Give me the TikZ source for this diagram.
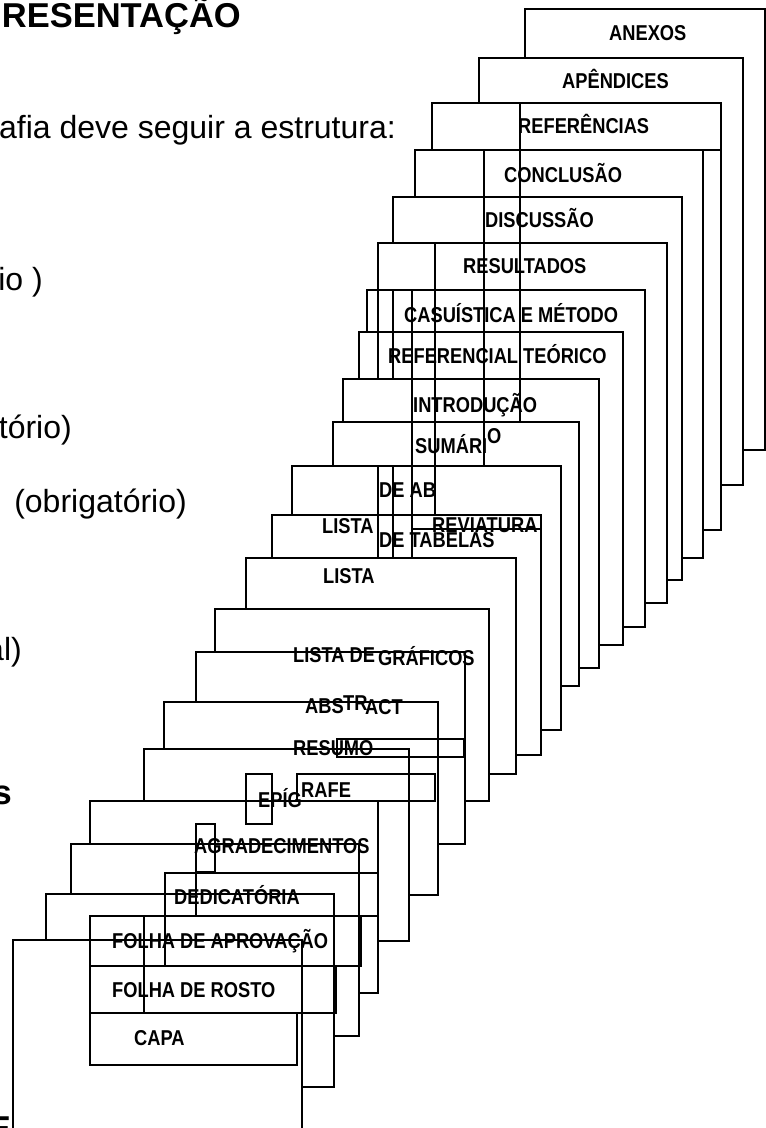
\documentclass[tikz,border=0pt]{standalone}
\usepackage{fontspec}
\setmainfont{Liberation Sans}
\newfontfamily\labfont[FakeStretch=0.85]{Liberation Sans}
\tikzset{
  page/.style={draw=black, fill=white, line width=1.7pt},
  ln/.style={draw=black, line width=1.7pt},
  lab/.style={inner sep=0pt, anchor=base west, font=\labfont\fontsize{21.5}{21.5}\selectfont\bfseries},
  body/.style={inner sep=0pt, font=\fontsize{32}{32}\selectfont},
  bodyb/.style={inner sep=0pt, font=\fontsize{34.5}{34.5}\selectfont\bfseries},
}
\begin{document}
\begin{tikzpicture}[x=1pt,y=-1pt]
\useasboundingbox (0,0) rectangle (766,1128);
% left text
\node[bodyb, anchor=base east] (title) at (241,27) {RESENTAÇÃO};
\node[body, anchor=base east] (t1) at (396,138) {afia deve seguir a estrutura:};
\node[body, anchor=base east] (t2) at (43,290) {io )};
\node[body, anchor=base east] (t3) at (72,438) {tório)};
\node[body, anchor=base east] (t4) at (187,512) {(obrigatório)};
\node[body, anchor=base east] (t5) at (22,660) {al)};
\node[bodyb, anchor=base east] (t6) at (12,804) {s};
\node[bodyb, anchor=base east] (t7) at (11,1140) {E};
% pages, back to front
\foreach \l/\t/\r/\b in {
  525/9/765/450, 479/58/743/485, 432/103/721/530, 415/150/703/558,
  393/197/682/580, 378/243/667/603, 367/290/645/627, 359/332/623/645,
  343/379/599/668, 333/422/579/686, 292/466/561/730, 272/515/541/755,
  246/558/516/774, 215/609/489/801, 196/652/465/844, 164/702/438/895,
  144/749/409/941, 90/801/378/993, 71/844/359/1036, 46/894/334/1087,
  13/940/302/1150}
  \draw[page] (\l,\t) rectangle (\r,\b);
% label box edges (upper stack)
\draw[ln] (520,103) -- (520,422);
\draw[ln] (520,150) -- (721,150);
\draw[ln] (484,150) -- (484,466);
\draw[ln] (435,243) -- (435,515);
\draw[ln] (412,290) -- (412,558);
\draw[ln] (393,290) -- (393,380) (393,466) -- (393,558);
\draw[ln] (378,290) -- (378,380) (378,466) -- (378,558);
\draw[ln] (412,529) -- (541,529);
% middle boxes
\draw[ln] (337,739) rectangle (464,757);
\draw[ln] (246,774) rectangle (272,824);
\draw[ln] (297,774) rectangle (435,801);
% lower boxes
\draw[ln] (196,824) rectangle (215,872);
\draw[ln] (196,872) -- (196,916);
\draw[ln] (165,873) rectangle (378,916);
\draw[ln] (165,916) -- (165,966);
\draw[ln] (90,916) rectangle (361,966);
\draw[ln] (90,966) rectangle (336,1013);
\draw[ln] (90,1013) rectangle (297,1065);
\draw[ln] (144,916) -- (144,1013);
% labels
\node[lab] (anexos) at (609,40) {ANEXOS};
\node[lab] (apend) at (562,88) {APÊNDICES};
\node[lab] (refer) at (518,133) {REFERÊNCIAS};
\node[lab] (concl) at (504,182) {CONCLUSÃO};
\node[lab] (discu) at (485,227) {DISCUSSÃO};
\node[lab] (resul) at (463,273) {RESULTADOS};
\node[lab] (casu) at (404,322) {CASUÍSTICA E MÉTODO};
\node[lab] (refte) at (388,363) {REFERENCIAL TEÓRICO};
\node[lab] (intro) at (413,412) {INTRODUÇÃO};
\node[lab] (suma) at (415,453) {SUMÁRI};
\node[lab] (sumo) at (487,443) {O};
\node[lab] (deab) at (379,497) {DE AB};
\node[lab] (lista1) at (322,533) {LISTA};
\node[lab] (revia) at (432,532) {REVIATURA};
\node[lab] (detab) at (379,547) {DE TABELAS};
\node[lab] (lista2) at (323,583) {LISTA};
\node[lab] (listade) at (293,662) {LISTA DE};
\node[lab] (graf) at (378,665) {GRÁFICOS};
\node[lab] (abs) at (305,713) {ABS};
\node[lab] (tr) at (343,710) {TR};
\node[lab] (act) at (365,714) {ACT};
\node[lab] (resumo) at (293,755) {RESUMO};
\node[lab] (epig) at (258,807) {EPÍG};
\node[lab] (rafe) at (301,797) {RAFE};
\node[lab] (agrad) at (194,853) {AGRADECIMENTOS};
\node[lab] (dedic) at (174,904) {DEDICATÓRIA};
\node[lab] (aprov) at (112,948) {FOLHA DE APROVAÇÃO};
\node[lab] (rosto) at (112,997) {FOLHA DE ROSTO};
\node[lab] (capa) at (134,1045) {CAPA};
\end{tikzpicture}
\end{document}
